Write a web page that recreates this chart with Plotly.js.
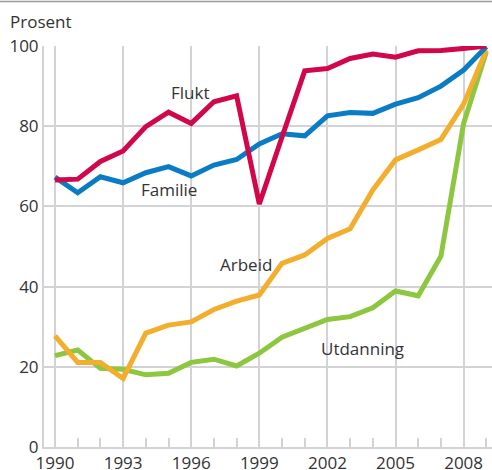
<!DOCTYPE html>
<html>
<head>
<meta charset="utf-8">
<script src="https://cdn.plot.ly/plotly-3.0.1.min.js"></script>
<style>
  html, body { margin: 0; padding: 0; background: #fff; }
  #plotArea { width: 492px; height: 470px; }
</style>
</head>
<body>
<div id="plotArea"></div>
<script>
// Years on the x axis
var years = [1990, 1991, 1992, 1993, 1994, 1995, 1996, 1997, 1998, 1999,
             2000, 2001, 2002, 2003, 2004, 2005, 2006, 2007, 2008, 2009];

// Series values (prosent)
var flukt = [66.6, 66.8, 71.2, 73.8, 79.9, 83.5, 80.7, 86.1, 87.6, 60.6,
             77.3, 93.8, 94.4, 96.9, 98.0, 97.2, 98.8, 98.9, 99.4, 100];
var familie = [67.3, 63.4, 67.4, 65.9, 68.4, 69.9, 67.6, 70.3, 71.7, 75.6,
               78.1, 77.6, 82.6, 83.4, 83.2, 85.5, 87.1, 90.0, 94.0, 99.8];
var arbeid = [27.7, 21.1, 21.1, 17.1, 28.4, 30.4, 31.2, 34.3, 36.4, 37.9,
              45.8, 47.9, 52.0, 54.4, 64.1, 71.6, 74.1, 76.7, 85.5, 99.0];
var utdanning = [22.8, 24.2, 19.6, 19.4, 18.0, 18.4, 21.1, 21.9, 20.2, 23.4,
                 27.4, 29.6, 31.8, 32.5, 34.7, 38.9, 37.7, 47.6, 80.7, 98.5];

var xTicks = [1990, 1993, 1996, 1999, 2002, 2005, 2008];
var yTicks = [0, 20, 40, 60, 80, 100];

var seriesNames = ["Utdanning", "Arbeid", "Familie", "Flukt"];
var seriesValues = [utdanning, arbeid, familie, flukt];
var seriesColors = ["#8dc63f", "#f2ae2c", "#0a7cc4", "#d2074a"];

// label positions (data coords)
var labelX = [2003.55, 1998.4, 1995.0, 1995.95];
var labelY = [24.6, 45.4, 64.1, 88.5];

var gridColor = "#d3d3d7";
var textColor = "#333333";
var fontFamily = "'Open Sans', 'Noto Sans', sans-serif";

var traces = [];
for (var i = 0; i < seriesNames.length; i++) {
    traces.push({
        x: years,
        y: seriesValues[i],
        name: seriesNames[i],
        type: "scatter",
        mode: "lines",
        line: {color: seriesColors[i], width: 5},
        cliponaxis: false
    });
}

var annotations = [];
for (var j = 0; j < seriesNames.length; j++) {
    annotations.push({
        x: labelX[j], y: labelY[j],
        text: seriesNames[j],
        showarrow: false,
        font: {family: fontFamily, size: 17, color: textColor}
    });
}
annotations.push({
    xref: "paper", yref: "paper",
    x: -0.08, y: 1.06,
    xanchor: "left", yanchor: "middle",
    text: "Prosent",
    showarrow: false,
    font: {family: fontFamily, size: 17, color: textColor}
});

var layout = {
    width: 492,
    height: 470,
    margin: {l: 44, r: 0, t: 46, b: 23},
    paper_bgcolor: "#ffffff",
    plot_bgcolor: "#ffffff",
    showlegend: false,
    font: {family: fontFamily, size: 17, color: textColor},
    xaxis: {
        range: [1989.515, 2009.25],
        tickvals: xTicks,
        ticktext: xTicks.map(String),
        showgrid: true,
        gridcolor: gridColor,
        gridwidth: 2,
        zeroline: false,
        showline: true,
        linecolor: gridColor,
        linewidth: 2,
        ticks: "",
        tickfont: {family: fontFamily, size: 17, color: textColor},
        minor: {
            dtick: 1,
            tick0: 1990,
            ticks: "inside",
            ticklen: 9,
            tickwidth: 2,
            tickcolor: gridColor,
            showgrid: false
        }
    },
    yaxis: {
        range: [0, 100],
        tickvals: yTicks,
        showgrid: true,
        gridcolor: gridColor,
        gridwidth: 2,
        zeroline: false,
        showline: true,
        linecolor: gridColor,
        linewidth: 2,
        ticks: "",
        tickfont: {family: fontFamily, size: 17, color: textColor}
    },
    shapes: [{
        type: "line",
        xref: "paper", yref: "paper",
        x0: -0.1, x1: 1.0, y0: 1.111, y1: 1.111,
        line: {color: "#9a9a9a", width: 1.5}
    }],
    annotations: annotations
};

Plotly.newPlot("plotArea", traces, layout, {displayModeBar: false, staticPlot: true});
</script>
</body>
</html>
